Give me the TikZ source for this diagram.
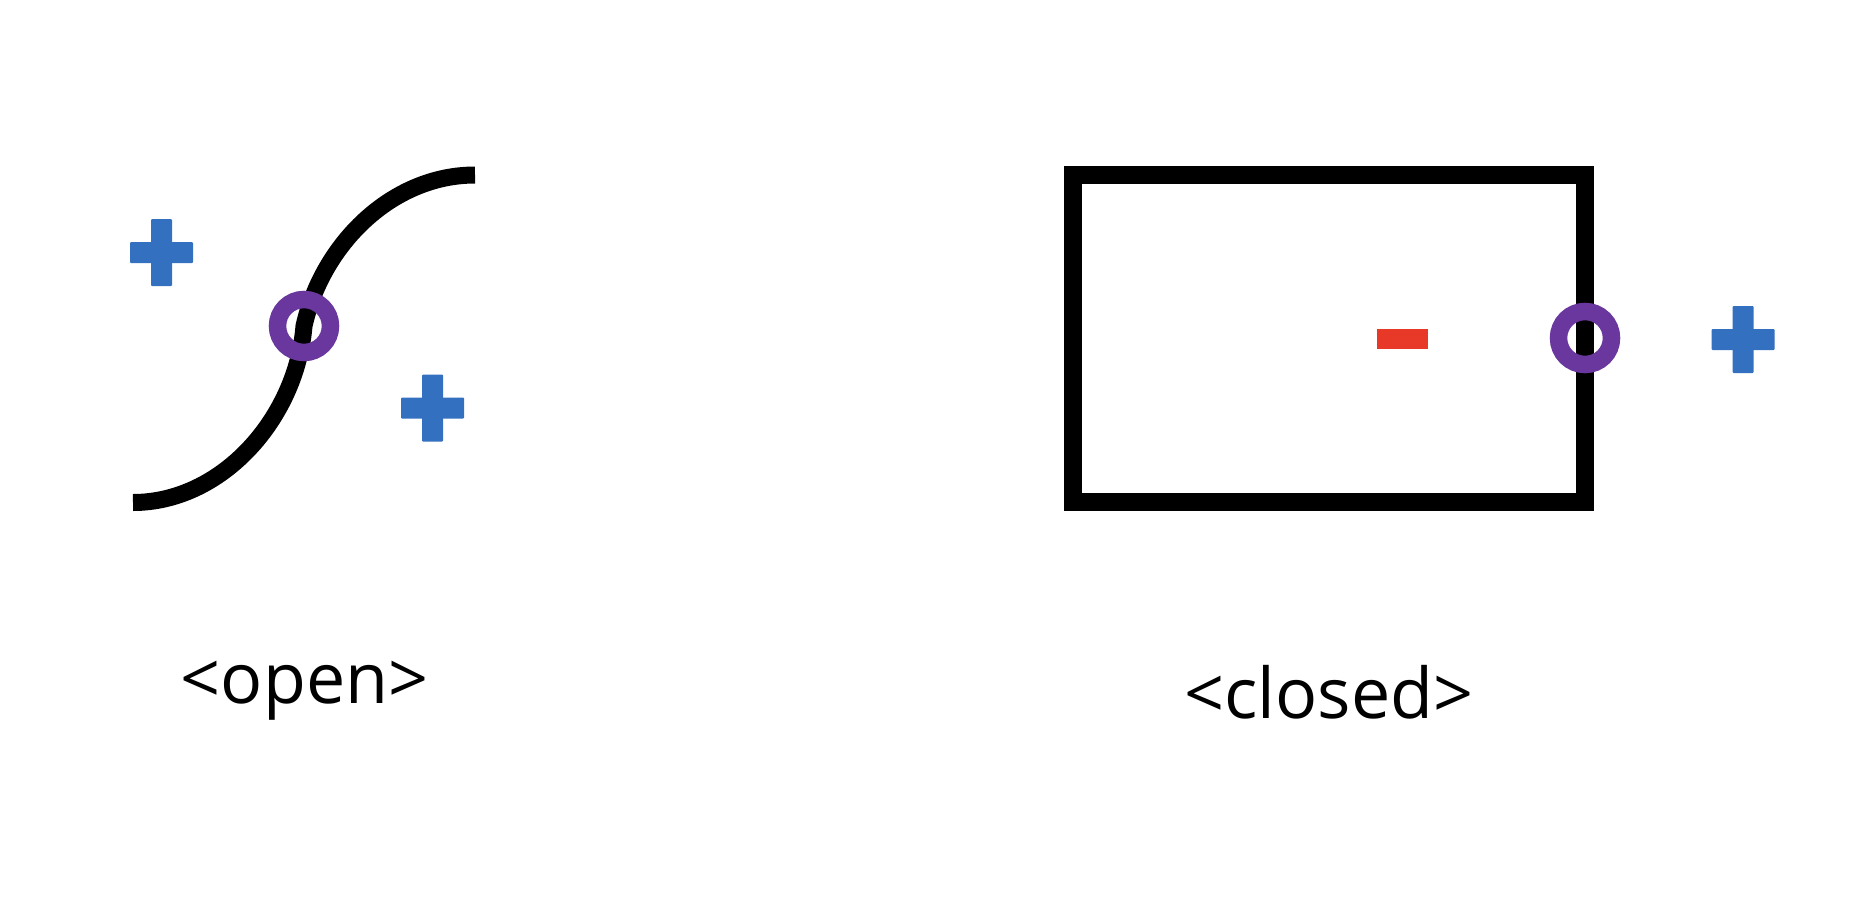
\documentclass[tikz,border=0pt]{standalone}
\usepackage{fontspec}
\setmainfont{Open Sans}
\definecolor{plusblue}{HTML}{3370BF}
\definecolor{ringpurple}{HTML}{6A379E}
\definecolor{minusred}{HTML}{E83828}
\begin{document}
\begin{tikzpicture}[x=1pt,y=-1pt,
  wire/.style={line width=17pt,line cap=butt,line join=miter,black},
  ring/.style={draw=ringpurple,line width=17.5pt},
  caption/.style={anchor=base,inner sep=0pt,font=\fontsize{70}{84}\selectfont},
  plussign/.pic={
    \fill[plusblue,rounded corners=1pt] (-31.5,-10.5) rectangle (31.5,10.5);
    \fill[plusblue,rounded corners=1pt] (-10.5,-33.5) rectangle (10.5,33.5);
  }]
\useasboundingbox (0,0) rectangle (1860,902);
\fill[white] (0,0) rectangle (1860,902);
% open curve
\coordinate (oA) at (133,502.5);
\coordinate (oM) at (304,326);
\coordinate (oB) at (475,175);
\draw[wire] (oA) .. controls (222,502.5) and (296.5,418.1) .. (oM)
  .. controls (322.3,244.1) and (392,175) .. (oB);
\node[ring,circle,minimum size=53pt,inner sep=0pt] (ringL) at (oM) {};
\pic at (161.5,252.5) {plussign};
\pic at (432.5,408) {plussign};
\node[caption] (openlbl) at (304.5,703) {<open>};
% closed rectangle
\draw[wire,line width=18pt] (1073,175) rectangle (1585,502);
\node[ring,circle,minimum size=53pt,inner sep=0pt] (ringR) at (1585,338) {};
\fill[minusred] (1377,329) rectangle (1428,349);
\pic at (1743,339.5) {plussign};
\node[caption] (closedlbl) at (1329,718) {<closed>};
\end{tikzpicture}
\end{document}
